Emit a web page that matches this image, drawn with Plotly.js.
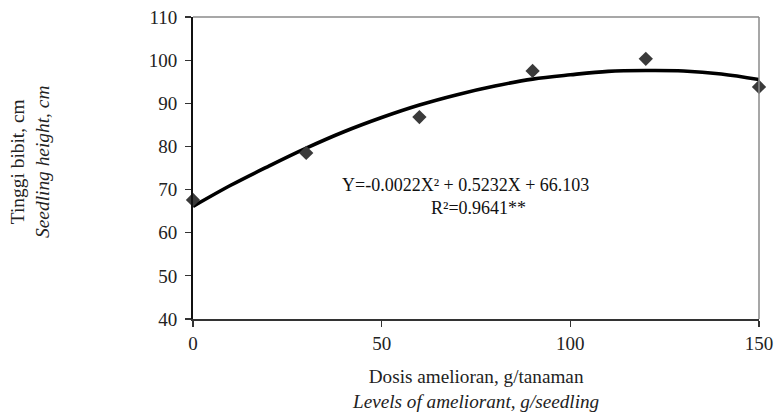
<!DOCTYPE html>
<html>
<head>
<meta charset="utf-8">
<script src="https://cdn.plot.ly/plotly-3.0.1.min.js"></script>
<style>html,body{margin:0;padding:0;background:#fff;}#chart{width:774px;height:412px;}</style>
</head>
<body>
<div id="chart"></div>
<script>
// Observed data points
var doseLevels = [0, 30, 60, 90, 120, 150];
var seedlingHeight = [67.6, 78.5, 86.8, 97.5, 100.3, 93.8];

// Fitted trend line
var trendX = [0, 10, 20, 30, 40, 50, 60, 70, 80, 90, 100, 110, 120, 130, 140, 150];
var trendY = [66.1, 71.0, 75.4, 79.6, 83.4, 86.7, 89.6, 92.0, 94.0, 95.6, 96.6, 97.4, 97.6, 97.5, 96.8, 95.5];

var xTicks = [0, 50, 100, 150];
var yTicks = [40, 50, 60, 70, 80, 90, 100, 110];

var eqText = 'Y=-0.0022X\u00b2 + 0.5232X + 66.103';
var r2Text = 'R\u00b2=0.9641**';

var serif = 'Liberation Serif, Times New Roman, serif';

var traces = [
  {
    x: trendX, y: trendY, type: 'scatter', mode: 'lines',
    line: {color: '#000', width: 3.6, shape: 'spline'},
    hoverinfo: 'skip', showlegend: false
  },
  {
    x: doseLevels, y: seedlingHeight, type: 'scatter', mode: 'markers',
    marker: {symbol: 'diamond', size: 11, color: '#3a3a3a'},
    showlegend: false, cliponaxis: false
  }
];

var layout = {
  width: 774, height: 412,
  margin: {l: 193, r: 15, t: 17, b: 93},
  paper_bgcolor: '#fff', plot_bgcolor: '#fff',
  font: {family: serif, size: 19, color: '#222'},
  showlegend: false,
  xaxis: {
    range: [0, 150], tickvals: xTicks, ticktext: xTicks.map(String),
    showgrid: false, zeroline: false,
    showline: true, linecolor: '#333', linewidth: 2,
    ticks: 'outside', ticklen: 6, tickwidth: 1.2, tickcolor: '#333',
    tickfont: {family: serif, size: 19, color: '#222'}
  },
  yaxis: {
    range: [40, 110], tickvals: yTicks, ticktext: yTicks.map(String),
    showgrid: false, zeroline: false,
    showline: true, linecolor: '#111', linewidth: 2,
    ticks: 'outside', ticklen: 6, tickwidth: 1.2, tickcolor: '#333',
    ticklabelstandoff: 4,
    tickfont: {family: serif, size: 19, color: '#222'}
  },
  shapes: [
    {type: 'line', xref: 'paper', yref: 'paper', x0: 0, x1: 1, y0: 1, y1: 1, line: {color: '#8a8a8a', width: 1.5}},
    {type: 'line', xref: 'paper', yref: 'paper', x0: 1, x1: 1, y0: 0, y1: 1, line: {color: '#8a8a8a', width: 1.5}}
  ],
  annotations: [
    {xref: 'paper', yref: 'paper', x: 0.5, y: 0, yshift: -70, xanchor: 'center', yanchor: 'middle',
     text: 'Dosis amelioran, g/tanaman<br><i>Levels of ameliorant, g/seedling</i>',
     showarrow: false, font: {family: serif, size: 19.2, color: '#222'}},
    {xref: 'paper', yref: 'paper', x: 0, xshift: -163, y: 0.52, xanchor: 'center', yanchor: 'middle',
     textangle: -90,
     text: 'Tinggi bibit, cm<br><i>Seedling height, cm</i>',
     showarrow: false, font: {family: serif, size: 19.4, color: '#222'}},
    {xref: 'paper', yref: 'paper', x: (465 - 193) / 566, y: (319 - 185) / 302, xanchor: 'center', yanchor: 'middle',
     text: eqText, showarrow: false, font: {family: serif, size: 18, color: '#111'}},
    {xref: 'paper', yref: 'paper', x: (478 - 193) / 566, y: (319 - 208) / 302, xanchor: 'center', yanchor: 'middle',
     text: r2Text, showarrow: false, font: {family: serif, size: 18, color: '#111'}}
  ]
};

Plotly.newPlot('chart', traces, layout, {displayModeBar: false, staticPlot: true});
</script>
</body>
</html>
